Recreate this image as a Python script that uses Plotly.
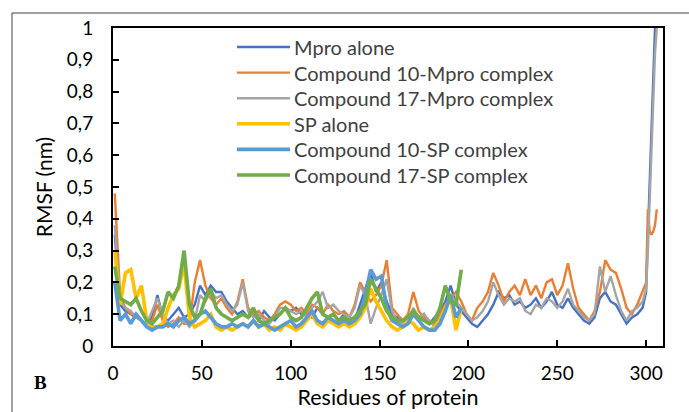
import plotly.graph_objects as go

# Residue numbers
mpro_res = list(range(1, 299, 3)) + [300, 301, 302, 303, 304, 305, 306]
sp_res = list(range(1, 197, 3))

mpro_alone = [0.35, 0.13, 0.11, 0.10, 0.09, 0.08, 0.07, 0.09, 0.16, 0.09,
              0.08, 0.10, 0.12, 0.09, 0.10, 0.13, 0.19, 0.16, 0.19, 0.17,
              0.17, 0.14, 0.12, 0.10, 0.11, 0.09, 0.10, 0.08, 0.11, 0.09,
              0.08, 0.10, 0.12, 0.11, 0.12, 0.10, 0.11, 0.09, 0.12, 0.10,
              0.09, 0.10, 0.08, 0.10, 0.09, 0.08, 0.13, 0.18, 0.23, 0.17,
              0.20, 0.14, 0.10, 0.09, 0.07, 0.09, 0.11, 0.08, 0.10, 0.07,
              0.09, 0.11, 0.14, 0.19, 0.13, 0.11, 0.09, 0.07, 0.06, 0.08,
              0.10, 0.13, 0.17, 0.15, 0.16, 0.13, 0.14, 0.12, 0.13, 0.15,
              0.12, 0.14, 0.17, 0.13, 0.12, 0.15, 0.12, 0.10, 0.08, 0.07,
              0.09, 0.15, 0.17, 0.14, 0.13, 0.10, 0.07, 0.09, 0.10, 0.12,
              0.17, 0.35, 0.50, 0.70, 0.86, 1.00, 1.05]

cpd10_mpro = [0.48, 0.16, 0.12, 0.10, 0.10, 0.08, 0.07, 0.08, 0.13, 0.08,
              0.06, 0.07, 0.09, 0.07, 0.07, 0.20, 0.27, 0.19, 0.15, 0.13,
              0.15, 0.12, 0.10, 0.14, 0.21, 0.12, 0.10, 0.11, 0.09, 0.08,
              0.10, 0.13, 0.14, 0.13, 0.11, 0.12, 0.10, 0.13, 0.12, 0.10,
              0.13, 0.11, 0.10, 0.11, 0.09, 0.13, 0.20, 0.17, 0.14, 0.16,
              0.19, 0.27, 0.12, 0.10, 0.08, 0.10, 0.17, 0.11, 0.09, 0.08,
              0.07, 0.10, 0.13, 0.15, 0.17, 0.14, 0.10, 0.08, 0.12, 0.14,
              0.17, 0.23, 0.19, 0.14, 0.17, 0.19, 0.16, 0.21, 0.16, 0.19,
              0.15, 0.20, 0.21, 0.16, 0.19, 0.26, 0.18, 0.12, 0.10, 0.08,
              0.11, 0.17, 0.27, 0.24, 0.23, 0.18, 0.12, 0.10, 0.13, 0.17,
              0.20, 0.43, 0.36, 0.35, 0.36, 0.38, 0.43]

cpd17_mpro = [0.38, 0.14, 0.12, 0.11, 0.09, 0.08, 0.07, 0.11, 0.15, 0.10,
              0.07, 0.08, 0.06, 0.08, 0.06, 0.08, 0.16, 0.14, 0.17, 0.15,
              0.16, 0.13, 0.11, 0.13, 0.20, 0.11, 0.09, 0.10, 0.08, 0.07,
              0.09, 0.12, 0.12, 0.11, 0.10, 0.11, 0.09, 0.12, 0.14, 0.17,
              0.12, 0.13, 0.11, 0.10, 0.09, 0.12, 0.19, 0.16, 0.07, 0.12,
              0.16, 0.21, 0.11, 0.08, 0.07, 0.08, 0.12, 0.09, 0.10, 0.08,
              0.06, 0.09, 0.12, 0.16, 0.14, 0.12, 0.10, 0.08, 0.09, 0.11,
              0.14, 0.20, 0.16, 0.13, 0.15, 0.14, 0.15, 0.11, 0.10, 0.13,
              0.12, 0.15, 0.14, 0.12, 0.14, 0.18, 0.13, 0.11, 0.09, 0.08,
              0.10, 0.25, 0.17, 0.22, 0.16, 0.11, 0.08, 0.11, 0.12, 0.14,
              0.18, 0.30, 0.45, 0.62, 0.80, 0.92, 1.00]

sp_alone = [0.30, 0.13, 0.23, 0.24, 0.15, 0.19, 0.08, 0.06, 0.06, 0.07,
            0.12, 0.16, 0.18, 0.26, 0.09, 0.06, 0.07, 0.08, 0.10, 0.06,
            0.05, 0.06, 0.05, 0.06, 0.07, 0.06, 0.08, 0.06, 0.07, 0.05,
            0.06, 0.05, 0.07, 0.06, 0.05, 0.06, 0.08, 0.10, 0.07, 0.06,
            0.08, 0.07, 0.06, 0.07, 0.06, 0.07, 0.09, 0.12, 0.18, 0.14,
            0.11, 0.08, 0.06, 0.05, 0.06, 0.08, 0.07, 0.05, 0.06, 0.05,
            0.06, 0.08, 0.12, 0.15, 0.05, 0.12]

cpd10_sp = [0.20, 0.08, 0.10, 0.07, 0.10, 0.08, 0.06, 0.05, 0.06, 0.06,
            0.07, 0.06, 0.08, 0.09, 0.07, 0.08, 0.10, 0.11, 0.09, 0.07,
            0.06, 0.06, 0.07, 0.06, 0.07, 0.06, 0.08, 0.06, 0.07, 0.06,
            0.05, 0.06, 0.07, 0.08, 0.06, 0.07, 0.09, 0.11, 0.08, 0.07,
            0.09, 0.08, 0.07, 0.08, 0.07, 0.08, 0.10, 0.16, 0.24, 0.21,
            0.22, 0.12, 0.08, 0.07, 0.06, 0.07, 0.10, 0.08, 0.06, 0.05,
            0.05, 0.07, 0.11, 0.16, 0.09, 0.12]

cpd17_sp = [0.25, 0.15, 0.14, 0.13, 0.15, 0.11, 0.08, 0.07, 0.09, 0.11,
            0.17, 0.15, 0.19, 0.30, 0.13, 0.09, 0.10, 0.15, 0.18, 0.12,
            0.10, 0.09, 0.08, 0.09, 0.10, 0.09, 0.12, 0.08, 0.07, 0.08,
            0.09, 0.10, 0.12, 0.09, 0.08, 0.09, 0.12, 0.15, 0.17, 0.10,
            0.09, 0.10, 0.08, 0.09, 0.08, 0.09, 0.11, 0.13, 0.21, 0.18,
            0.15, 0.11, 0.09, 0.08, 0.08, 0.09, 0.11, 0.09, 0.08, 0.07,
            0.08, 0.12, 0.19, 0.14, 0.13, 0.24]

series = [
    ("Mpro alone", mpro_res, mpro_alone, "#4472C4", 2.4),
    ("Compound 10-Mpro complex", mpro_res, cpd10_mpro, "#ED7D31", 2.4),
    ("Compound 17-Mpro complex", mpro_res, cpd17_mpro, "#A5A5A5", 2.4),
    ("SP alone", sp_res, sp_alone, "#FFC000", 3.6),
    ("Compound 10-SP complex", sp_res, cpd10_sp, "#5B9BD5", 3.6),
    ("Compound 17-SP complex", sp_res, cpd17_sp, "#70AD47", 3.6),
]

W, H = 689, 412
L, R, T, B = 113, 26, 28, 66
pw, ph = W - L - R, H - T - B

def px(xp):
    return (xp - L) / pw

def py(yp):
    return (H - B - yp) / ph

fig = go.Figure()
for name, xs, ys, color, w in series:
    fig.add_trace(go.Scatter(x=xs, y=ys, mode="lines", name=name,
                             line=dict(color=color, width=w),
                             showlegend=False))

# Legend drawn as real text + sample lines (Excel-style spacing)
leg_x0, leg_x1, leg_tx = 237, 290, 292
leg_y0, leg_dy = 47, 25.6
for i, (name, xs, ys, color, w) in enumerate(series):
    yc = leg_y0 + i * leg_dy
    fig.add_shape(type="line", xref="paper", yref="paper",
                  x0=px(leg_x0), x1=px(leg_x1), y0=py(yc), y1=py(yc),
                  line=dict(color=color, width=w))
    fig.add_annotation(text=name, xref="paper", yref="paper",
                       x=px(leg_tx), y=py(yc), xanchor="left",
                       yanchor="middle", showarrow=False,
                       font=dict(family="Lato, sans-serif", size=20,
                                 color="#404040"))

font_main = "Lato, Calibri, Open Sans, sans-serif"

fig.update_layout(
    width=W, height=H,
    margin=dict(l=L, r=R, t=T, b=B, pad=0),
    paper_bgcolor="white", plot_bgcolor="white",
    separators=", ",
    font=dict(family=font_main, color="#000000", size=19),
    showlegend=False,
    xaxis=dict(range=[0, 309.5], dtick=50, tick0=0, showgrid=False,
               zeroline=False, showline=True, linecolor="black", linewidth=2,
               mirror=True, ticks="inside", ticklen=6, tickcolor="black",
               tickwidth=2, tickfont=dict(size=19), ticklabelstandoff=9,
               automargin=False,
               title=dict(text="Residues of protein", font=dict(size=21.5),
                          standoff=6)),
    yaxis=dict(range=[0, 1], dtick=0.1, tick0=0, showgrid=False,
               zeroline=False, showline=True, linecolor="black", linewidth=2,
               mirror=True, ticks="inside", ticklen=6, tickcolor="black",
               tickwidth=2, tickfont=dict(size=19), ticklabelstandoff=14,
               automargin=False,
               title=dict(text="RMSF (nm)", font=dict(size=21), standoff=8)),
)

fig.add_annotation(text="<b>B</b>", xref="paper", yref="paper",
                   x=px(40), y=py(382), xanchor="center", yanchor="middle",
                   showarrow=False,
                   font=dict(family="Liberation Serif, Times New Roman, serif",
                             size=19, color="#000000"))

fig.add_shape(type="rect", xref="paper", yref="paper",
              x0=px(12), x1=px(720), y0=py(440), y1=py(13),
              line=dict(color="#404040", width=1), layer="below")

fig.write_html("out.html")
